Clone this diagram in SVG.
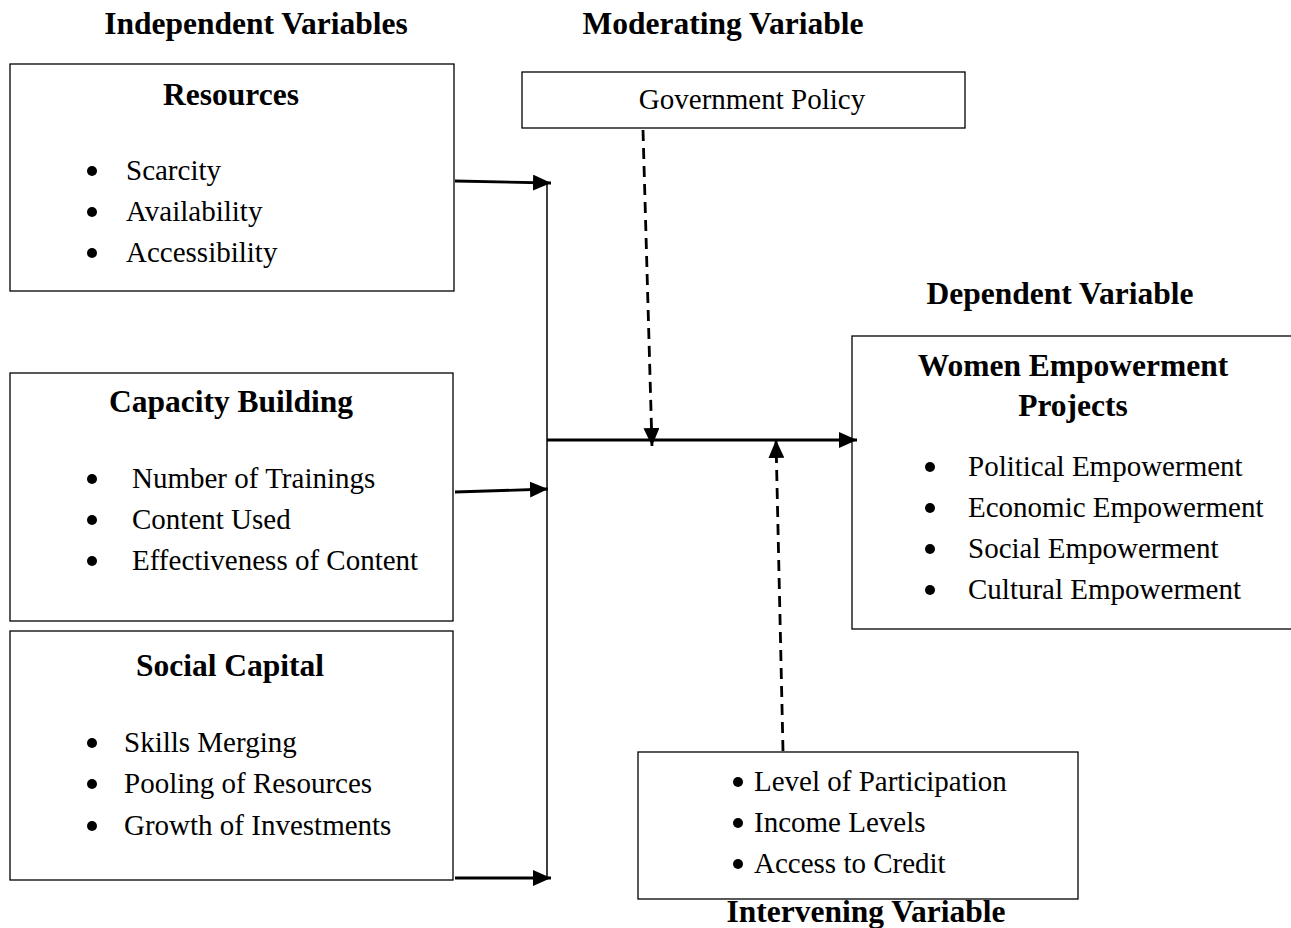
<svg xmlns="http://www.w3.org/2000/svg" width="1291" height="928" viewBox="0 0 1291 928">
<style>
.box{fill:#fff;stroke:#000;stroke-width:1.3}
.h{font-family:"Liberation Serif",serif;font-weight:bold;font-size:31.5px;fill:#000;text-anchor:middle}
.t{font-family:"Liberation Serif",serif;font-size:29px;fill:#000}
.c{stroke:#000;stroke-width:2.8;fill:none}
.d{stroke:#000;stroke-width:2.8;fill:none;stroke-dasharray:11,7}
.v{stroke:#000;stroke-width:1.5;fill:none}
</style>
<defs>
<marker id="ah" viewBox="0 0 10 10" refX="10" refY="5" markerWidth="18" markerHeight="16" markerUnits="userSpaceOnUse" preserveAspectRatio="none" orient="auto"><path d="M0,0L10,5L0,10z" fill="#000"/></marker>
</defs>
<g id="labels">
<text class="h" x="256" y="34">Independent Variables</text>
<text class="h" x="723" y="34">Moderating Variable</text>
<text class="h" x="1060" y="304">Dependent Variable</text>
<text class="h" x="866" y="922">Intervening Variable</text>
</g>
<g id="resources">
<rect class="box" x="10" y="64" width="444" height="227"/>
<text class="h" x="231" y="105">Resources</text>
<circle cx="92" cy="171" r="5"/><text class="t" x="126" y="180">Scarcity</text>
<circle cx="92" cy="212" r="5"/><text class="t" x="126" y="221">Availability</text>
<circle cx="92" cy="253" r="5"/><text class="t" x="126" y="262">Accessibility</text>
</g>
<g id="capacity">
<rect class="box" x="10" y="373" width="443" height="248"/>
<text class="h" x="231" y="412">Capacity Building</text>
<circle cx="92" cy="479" r="5"/><text class="t" x="132" y="488">Number of Trainings</text>
<circle cx="92" cy="520" r="5"/><text class="t" x="132" y="529">Content Used</text>
<circle cx="92" cy="561" r="5"/><text class="t" x="132" y="570">Effectiveness of Content</text>
</g>
<g id="social">
<rect class="box" x="10" y="631" width="443" height="249"/>
<text class="h" x="230" y="676">Social Capital</text>
<circle cx="92" cy="743" r="5"/><text class="t" x="124" y="752">Skills Merging</text>
<circle cx="92" cy="784" r="5"/><text class="t" x="124" y="793">Pooling of Resources</text>
<circle cx="92" cy="826" r="5"/><text class="t" x="124" y="835">Growth of Investments</text>
</g>
<g id="policy">
<rect class="box" x="522" y="72" width="443" height="56"/>
<text class="t" x="752" y="109" text-anchor="middle">Government Policy</text>
</g>
<g id="dependent">
<rect class="box" x="852" y="336" width="445" height="293"/>
<text class="h" x="1073" y="376">Women Empowerment</text>
<text class="h" x="1073" y="416">Projects</text>
<circle cx="930" cy="467" r="5"/><text class="t" x="968" y="476">Political Empowerment</text>
<circle cx="930" cy="508" r="5"/><text class="t" x="968" y="517">Economic Empowerment</text>
<circle cx="930" cy="549" r="5"/><text class="t" x="968" y="558">Social Empowerment</text>
<circle cx="930" cy="590" r="5"/><text class="t" x="968" y="599">Cultural Empowerment</text>
</g>
<g id="intervening">
<rect class="box" x="638" y="752" width="440" height="147"/>
<circle cx="738" cy="782" r="5"/><text class="t" x="754" y="791">Level of Participation</text>
<circle cx="738" cy="823" r="5"/><text class="t" x="754" y="832">Income Levels</text>
<circle cx="738" cy="864" r="5"/><text class="t" x="754" y="873">Access to Credit</text>
</g>
<g id="connectors">
<line class="v" x1="547" y1="182" x2="547" y2="878"/>
<line class="c" x1="455" y1="181" x2="551" y2="183" marker-end="url(#ah)"/>
<line class="c" x1="455" y1="492" x2="548" y2="489" marker-end="url(#ah)"/>
<line class="c" x1="455" y1="878" x2="551" y2="878" marker-end="url(#ah)"/>
<line class="c" x1="547" y1="440" x2="857" y2="440" marker-end="url(#ah)"/>
<line class="d" x1="643" y1="130" x2="652" y2="446" marker-end="url(#ah)"/>
<line class="d" x1="783" y1="751" x2="776" y2="440" marker-end="url(#ah)"/>
</g>
</svg>
